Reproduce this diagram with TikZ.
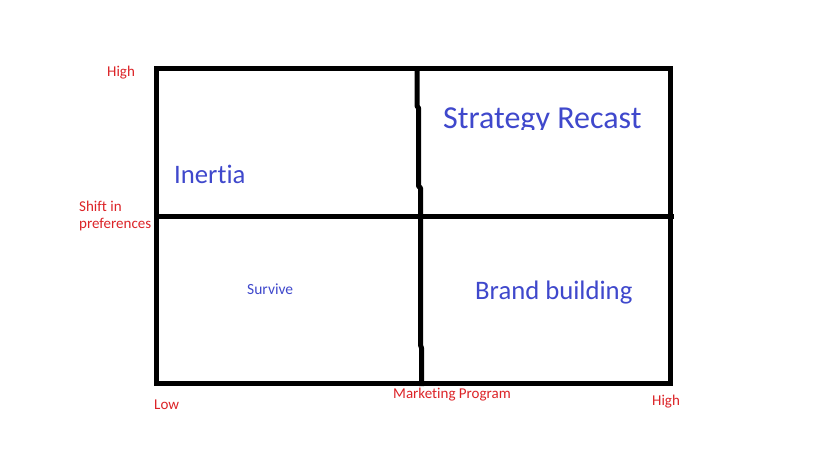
\documentclass[tikz,border=0pt]{standalone}
\usepackage{fontspec}
\setmainfont[Ligatures=NoCommon]{Carlito}
\definecolor{qblue}{HTML}{3F48CC}
\definecolor{qred}{HTML}{DC2327}
\begin{document}
\begin{tikzpicture}[x=1pt,y=-1pt,
  frame/.style={line width=5pt,black},
  axislbl/.style={text=qred,font=\fontsize{15}{16}\selectfont,inner sep=0pt},
  quadbig/.style={text=qblue,font=\fontsize{26.7}{30}\selectfont,inner sep=0pt},
  quadsmall/.style={text=qblue,font=\fontsize{15.5}{18}\selectfont,inner sep=0pt}]
\useasboundingbox (0,0) rectangle (819,460);
\fill[white] (0,0) rectangle (819,460);
% frame
\draw[frame] (156.5,69) rectangle (670,383);
\draw[frame] (156.5,216.5) -- (674,216.5);
\draw[frame,line join=round] (417,67) -- (417,106) -- (418.5,108) -- (418.5,186) -- (420.5,188) -- (420.5,345) -- (421.5,348) -- (421.5,386);
% axis labels
\node[axislbl,anchor=base west] (hightop) at (107,77) {High};
\node[axislbl,anchor=base west] (shift) at (79,211) {Shift in};
\node[axislbl,anchor=base west] (pref) at (79,228) {preferences};
\node[axislbl,anchor=base west] (low) at (154,409) {Low};
\node[axislbl,anchor=base west] (mkt) at (393,398) {Marketing Program};
\node[axislbl,anchor=base west] (highbot) at (652,405.5) {High};
% quadrant labels
\node[quadbig,anchor=base west] (inertia) at (174,183) {Inertia};
\begin{scope}
\clip (430,90) rectangle (660,129.5);
\node[quadbig,font=\fontsize{32}{36}\selectfont,anchor=base west] (recast) at (443,128) {Strategy Recast};
\end{scope}
\node[quadsmall,anchor=base west] (survive) at (247,294) {Survive};
\node[quadbig,anchor=base west] (brand) at (475,299) {Brand building};
\end{tikzpicture}
\end{document}
